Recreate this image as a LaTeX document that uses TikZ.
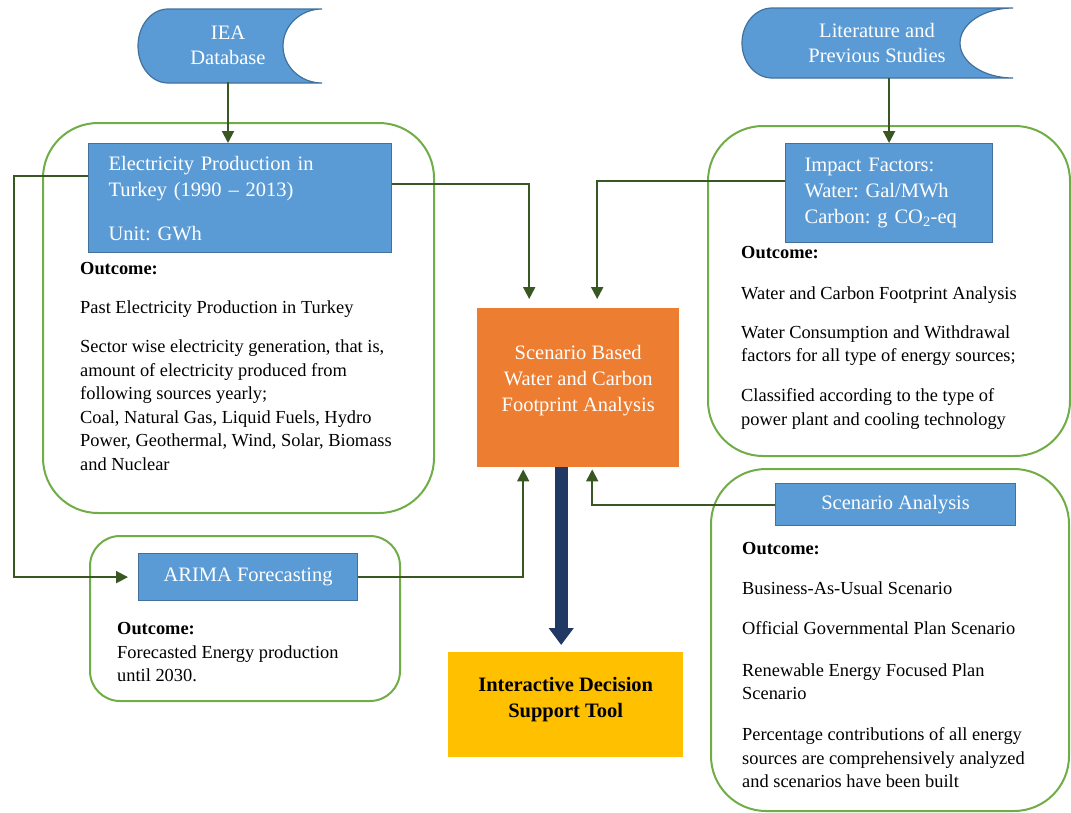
\documentclass[tikz,border=0pt]{standalone}
\usepackage{fontspec}
\setmainfont{Liberation Serif}
\usetikzlibrary{arrows.meta, positioning}
\definecolor{boxblue}{HTML}{5B9BD5}
\definecolor{boxedge}{HTML}{41719C}
\definecolor{grpgreen}{HTML}{70AD47}
\definecolor{linkgreen}{HTML}{385723}
\definecolor{coreorange}{HTML}{ED7D31}
\definecolor{toolyellow}{HTML}{FFC000}
\definecolor{navyblue}{HTML}{1F3864}
\frenchspacing

\begin{document}
\begin{tikzpicture}[
  x=1pt, y=-1pt,
  store/.style={draw=boxedge, fill=boxblue, line width=1.2},
  storetxt/.style={align=center, text=white, font=\fontsize{20.5}{25}\selectfont, inner sep=0},
  grp/.style={draw=grpgreen, line width=2, anchor=north west},
  box/.style={draw=boxedge, fill=boxblue, line width=1.2, text=white, anchor=north west, font=\fontsize{20.5}{26}\selectfont},
  outtxt/.style={anchor=north west, align=left, inner sep=0, font=\fontsize{18.4}{23.5}\selectfont},
  corebox/.style={fill=coreorange, text=white, anchor=north west, align=center, font=\fontsize{20.5}{26}\selectfont},
  toolbox/.style={fill=toolyellow, anchor=north west, align=center, font=\fontsize{20.5}{26}\selectfont\bfseries},
  link/.style={draw=linkgreen, line width=2, -{Triangle[length=12pt,width=12pt]}},
  bigarrow/.style={draw=navyblue, line width=13, -{Triangle[length=17pt,width=24pt]}, shorten >=7}
]
\useasboundingbox (0,0) rectangle (1071,812);

% groups
\node[grp, rounded corners=55, minimum width=391, minimum height=390] (grpelec) at (42,122) {};
\node[grp, rounded corners=55, minimum width=362, minimum height=330] (grpimpact) at (707,125) {};
\node[grp, rounded corners=30, minimum width=310, minimum height=165] (grparima) at (89,535) {};
\node[grp, rounded corners=55, minimum width=358, minimum height=342] (grpscen) at (710,468) {};

% data sources
\draw[store] (322,9) -- (168,9) arc[start angle=270, end angle=90, x radius=30, y radius=37]
  -- (322,83) arc[start angle=90, end angle=270, x radius=39, y radius=37] -- cycle;
\node[storetxt, minimum width=184, minimum height=74] (iea) at (228,45) {IEA\\Database};
\draw[store] (1013,8) -- (772,8) arc[start angle=270, end angle=90, x radius=30, y radius=35]
  -- (1013,78) arc[start angle=90, end angle=270, x radius=53, y radius=35] -- cycle;
\node[storetxt, minimum width=271, minimum height=70] (lit) at (877,43) {Literature and\\Previous Studies};

% blue boxes
\node[box, minimum width=303, minimum height=109, text width=263, inner xsep=20, align=left] (elec) at (88,143)
  {Electricity Production in\\Turkey (1990 -- 2013)\\[18pt]Unit: GWh};
\node[box, minimum width=207, minimum height=99, text width=169, inner xsep=19, align=left] (impact) at (785,143)
  {Impact Factors:\\Water: Gal/MWh\\Carbon: g CO\textsubscript{2}-eq};
\node[box, minimum width=219, minimum height=47] (arima) at (138,553) {ARIMA Forecasting};
\node[box, minimum width=240, minimum height=42] (scen) at (775,483) {Scenario Analysis};

% centre
\node[corebox, minimum width=202, minimum height=159] (core) at (477,308)
  {Scenario Based\\Water and Carbon\\Footprint Analysis\\[-7pt]\mbox{}};
\node[toolbox, minimum width=235, minimum height=105] (tool) at (448,652)
  {Interactive Decision\\Support Tool\\[-12pt]\mbox{}};

% outcomes
\node[outtxt] (eout) at (80,262.5) {\textbf{Outcome:}\\[15.5pt]
  Past Electricity Production in Turkey\\[15.5pt]
  Sector wise electricity generation, that is,\\
  amount of electricity produced from\\
  following sources yearly;\\
  Coal, Natural Gas, Liquid Fuels, Hydro\\
  Power, Geothermal, Wind, Solar, Biomass\\
  and Nuclear};
\node[outtxt] (iout) at (741,246.5) {\textbf{Outcome:}\\[17pt]
  Water and Carbon Footprint Analysis\\[15.5pt]
  Water Consumption and Withdrawal\\
  factors for all type of energy sources;\\[16.5pt]
  Classified according to the type of\\
  power plant and cooling technology};
\node[outtxt] (aout) at (117,622.5) {\textbf{Outcome:}\\
  Forecasted Energy production\\
  until 2030.};
\node[outtxt] (sout) at (742,542.5) {\textbf{Outcome:}\\[16pt]
  Business-As-Usual Scenario\\[17pt]
  Official Governmental Plan Scenario\\[18pt]
  Renewable Energy Focused Plan\\
  Scenario\\[17.5pt]
  Percentage contributions of all energy\\
  sources are comprehensively analyzed\\
  and scenarios have been built};

% connectors
\coordinate (lbend) at (14,0);
\draw[link] (iea.south) -- (iea.south |- elec.north);
\draw[link] (lit.south -| impact.north) -- (impact.north);
\draw[link, shorten >=10] ([yshift=22.5]elec.west) -| (lbend |- arima.west) -- (arima.west);
\draw[link, shorten >=9] ([yshift=14.5]elec.east) -| ([xshift=-49]core.north);
\draw[link, shorten >=9] ([yshift=12.5]impact.west) -| ([xshift=19]core.north);
\draw[link, shorten >=2] (arima.east) -| ([xshift=-55]core.south);
\draw[link, shorten >=2] (scen.west) -| ([xshift=14]core.south);
\draw[bigarrow] ([xshift=-17]core.south) -- ([xshift=-17]core.south |- tool.north);
\end{tikzpicture}
\end{document}
